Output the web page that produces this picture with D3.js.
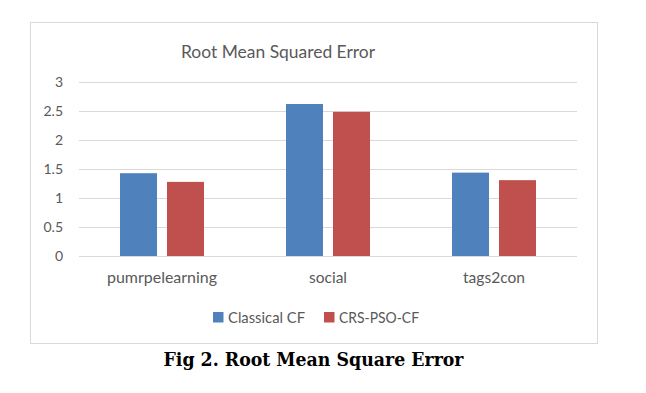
<!DOCTYPE html>
<html>
<head>
<meta charset="utf-8">
<script src="https://cdn.jsdelivr.net/npm/d3@7"></script>
<style>
  body { margin: 0; background: #fff; }
  text { font-family: Lato, "Open Sans", sans-serif; fill: #595959; }
</style>
</head>
<body>
<div class="chart"></div>
<script>
const categories = ["pumrpelearning", "social", "tags2con"];
const seriesNames = ["Classical CF", "CRS-PSO-CF"];
const classicalCF = [1.43, 2.625, 1.44];
const crsPsoCF = [1.28, 2.49, 1.31];
const yTicks = [0, 0.5, 1, 1.5, 2, 2.5, 3];
const colors = ["#4f81bd", "#c0504d"];

const data = categories.map((c, i) => ({
  category: c,
  values: [classicalCF[i], crsPsoCF[i]]
}));

const svg = d3.select(".chart").append("svg")
  .attr("width", 646)
  .attr("height", 393);

// chart frame
svg.append("rect")
  .attr("x", 30.5).attr("y", 22.5)
  .attr("width", 567).attr("height", 321)
  .attr("fill", "none")
  .attr("stroke", "#d9d9d9");

const x0 = d3.scaleBand()
  .domain(categories)
  .range([79, 577])
  .paddingInner(0.494)
  .paddingOuter(0.247);

const x1 = d3.scaleBand()
  .domain(seriesNames)
  .range([0, x0.bandwidth()])
  .paddingInner(0.213);

const y = d3.scaleLinear()
  .domain([0, 3])
  .range([256, 82.3]);

// gridlines
svg.append("g")
  .selectAll("line")
  .data(yTicks)
  .join("line")
  .attr("x1", 79).attr("x2", 577)
  .attr("y1", d => Math.round(y(d)) + 0.5)
  .attr("y2", d => Math.round(y(d)) + 0.5)
  .attr("stroke", "#d9d9d9");

// y labels
const yAxis = d3.axisLeft(y).tickValues(yTicks).tickSize(0).tickPadding(16)
  .tickFormat(d3.format("~g"));
svg.append("g")
  .attr("transform", "translate(79,0)")
  .call(yAxis)
  .call(g => g.select(".domain").remove())
  .selectAll("text")
  .style("font-family", "Lato, sans-serif")
  .style("font-size", "14px")
  .attr("fill", "#595959");

// bars
svg.append("g")
  .selectAll("g")
  .data(data)
  .join("g")
  .attr("transform", d => "translate(" + x0(d.category) + ",0)")
  .selectAll("rect")
  .data(d => d.values.map((v, i) => ({ key: seriesNames[i], value: v, i: i })))
  .join("rect")
  .attr("x", d => x1(d.key))
  .attr("y", d => y(d.value))
  .attr("width", x1.bandwidth())
  .attr("height", d => y(0) - y(d.value))
  .attr("fill", d => colors[d.i]);

// baseline
svg.append("line")
  .attr("x1", 79).attr("x2", 577)
  .attr("y1", 256.5).attr("y2", 256.5)
  .attr("stroke", "#d9d9d9");

// x labels
const labelWidths = [110, 38, 62];
svg.append("g")
  .selectAll("text")
  .data(categories)
  .join("text")
  .attr("x", d => x0(d) + x0.bandwidth() / 2)
  .attr("y", 283)
  .attr("text-anchor", "middle")
  .style("font-size", "15px")
  .attr("textLength", (d, i) => labelWidths[i])
  .attr("lengthAdjust", "spacingAndGlyphs")
  .text(d => d);

// title
svg.append("text")
  .attr("x", 181)
  .attr("y", 57.5)
  .style("font-size", "17px")
  .attr("textLength", 194)
  .attr("lengthAdjust", "spacingAndGlyphs")
  .text("Root Mean Squared Error");

// legend
const legendX = [213, 324];
const legendW = [77, 80];
const legend = svg.append("g")
  .selectAll("g")
  .data(seriesNames)
  .join("g")
  .attr("transform", (d, i) => "translate(" + legendX[i] + ",312)");
legend.append("rect")
  .attr("width", 10.5).attr("height", 10.5)
  .attr("fill", (d, i) => colors[i]);
legend.append("text")
  .attr("x", 15)
  .attr("y", 10.5)
  .style("font-size", "15px")
  .attr("textLength", (d, i) => legendW[i])
  .attr("lengthAdjust", "spacingAndGlyphs")
  .text(d => d);

// caption
svg.append("text")
  .attr("x", 163.5)
  .attr("y", 366)
  .style("font-family", "'DejaVu Serif', serif")
  .style("font-weight", "bold")
  .style("font-size", "18px")
  .style("fill", "#000")
  .attr("textLength", 300)
  .attr("lengthAdjust", "spacingAndGlyphs")
  .text("Fig 2. Root Mean Square Error");
</script>
</body>
</html>
